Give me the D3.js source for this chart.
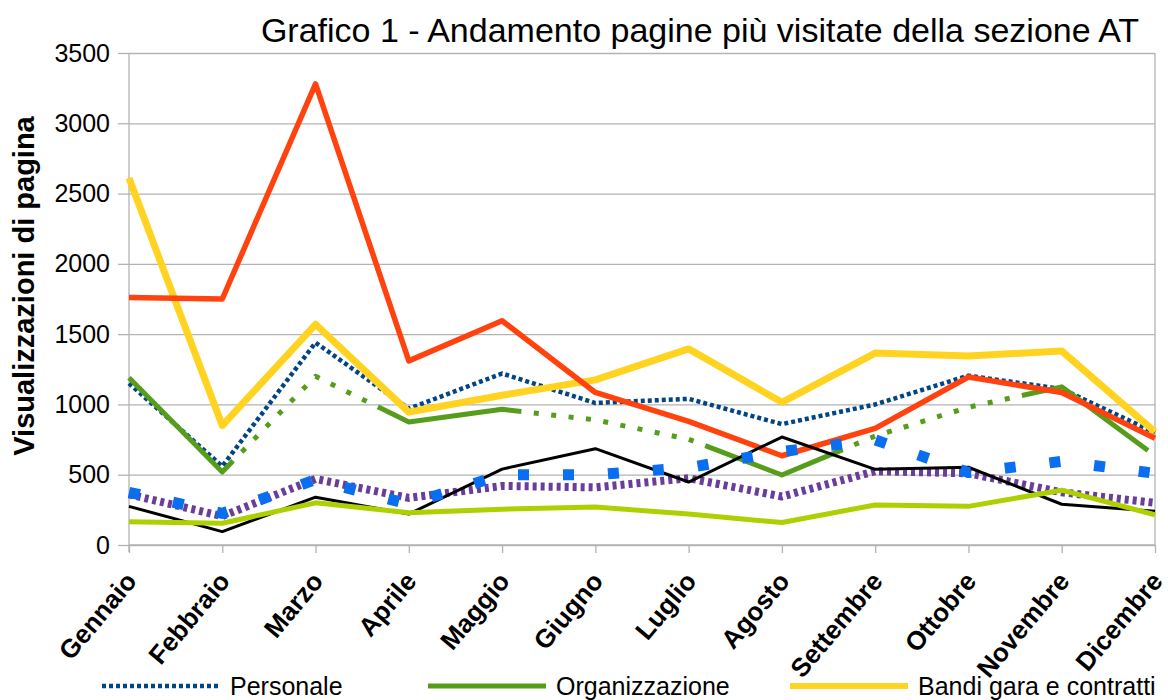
<!DOCTYPE html>
<html>
<head>
<meta charset="utf-8">
<script src="https://cdn.jsdelivr.net/npm/d3@7"></script>
<style>
  body { margin: 0; background: #fff; }
  text { font-family: "Liberation Sans", Arial, sans-serif; fill: #000; }
</style>
</head>
<body>
<div id="chart"></div>
<script>
(function () {

  // dati
  const months = ["Gennaio", "Febbraio", "Marzo", "Aprile", "Maggio", "Giugno",
    "Luglio", "Agosto", "Settembre", "Ottobre", "Novembre", "Dicembre"]

  const personale      = [1150, 560, 1440, 970, 1220, 1010, 1040, 860, 1000, 1205, 1110, 800]
  const organizzazione = [1190, 520, 1200, 875, 965, 890, 752, 498, 775, 980, 1125, 635]
  const bandi          = [2610, 850, 1570, 945, 1065, 1175, 1395, 1015, 1365, 1345, 1380, 805]
  const serieRossa     = [1760, 1750, 3280, 1310, 1595, 1085, 880, 635, 830, 1195, 1085, 760]
  const serieViola     = [360, 205, 470, 335, 420, 410, 475, 345, 525, 510, 375, 300]
  const serieNera      = [275, 95, 340, 220, 540, 685, 448, 768, 538, 553, 290, 240]
  const serieLime      = [165, 155, 300, 230, 255, 270, 220, 160, 285, 275, 390, 215]
  const serieQuadrati  = [375, 225, 465, 290, 500, 500, 550, 665, 748, 515, 595, 510]

  const yTicks = [0, 500, 1000, 1500, 2000, 2500, 3000, 3500]

  const legendNames = ["Personale", "Organizzazione", "Bandi gara e contratti"]

  const width = 1168
  const height = 700
  const left = 129, right = 1155, top = 53, bottom = 545

  const svg = d3.select("#chart").append("svg")
    .attr("width", width)
    .attr("height", height)

  const x = d3.scalePoint()
    .domain(months)
    .range([left, right])

  const y = d3.scaleLinear()
    .domain([0, 3500])
    .range([bottom, top])

  // griglia orizzontale
  svg.append("g")
    .attr("transform", "translate(" + left + ",0)")
    .call(d3.axisLeft(y).tickValues(yTicks).tickSize(-(right - left)).tickFormat(""))
    .call(g => g.select(".domain").remove())
    .call(g => g.selectAll("line").attr("stroke", "#b3b3b3").attr("stroke-width", 1.3))

  // bordo destro
  svg.append("line")
    .attr("x1", right).attr("x2", right)
    .attr("y1", top).attr("y2", bottom)
    .attr("stroke", "#b3b3b3").attr("stroke-width", 1.3)

  // asse y
  const yAxis = svg.append("g")
    .attr("transform", "translate(" + left + ",0)")
    .call(d3.axisLeft(y).tickValues(yTicks).tickSize(11).tickPadding(8).tickFormat(d3.format("d")))
  yAxis.select(".domain").attr("stroke", "#b3b3b3").attr("stroke-width", 1.3)
    .attr("d", "M0," + top + "V" + (bottom + 7))
  yAxis.selectAll("line").attr("stroke", "#b3b3b3").attr("stroke-width", 1.3)
  yAxis.selectAll("text").attr("font-size", 25).attr("fill", "#000")
    .style("font-family", '"Liberation Sans", Arial, sans-serif')

  // asse x
  const xAxis = svg.append("g")
    .attr("transform", "translate(0," + bottom + ")")
    .call(d3.axisBottom(x).tickSize(8).tickFormat(""))
  xAxis.select(".domain").attr("stroke", "#b3b3b3").attr("stroke-width", 1.3)
    .attr("d", "M" + left + ",0H" + right)
  xAxis.selectAll("line").attr("stroke", "#b3b3b3").attr("stroke-width", 1.3)

  svg.append("g").selectAll("text")
    .data(months)
    .join("text")
    .attr("transform", d => "translate(" + (x(d) + 2) + "," + (bottom + 31) + ") rotate(-50)")
    .attr("text-anchor", "end")
    .attr("dy", "0.35em")
    .attr("font-size", 26)
    .attr("font-weight", "bold")
    .text(d => d)

  // titolo asse y
  svg.append("text")
    .attr("transform", "translate(34,286) rotate(-90)")
    .attr("text-anchor", "middle")
    .attr("font-size", 29)
    .attr("font-weight", "bold")
    .text("Visualizzazioni di pagina")

  // titolo
  svg.append("text")
    .attr("x", 700)
    .attr("y", 42)
    .attr("text-anchor", "middle")
    .attr("font-size", 34)
    .text("Grafico 1 - Andamento pagine più visitate della sezione AT")

  // trattino lungo seguito da puntini
  const dashDot = [148].concat(d3.range(10).flatMap(() => [12.5, 5])).concat([12.5]).join(",")

  const series = [
    { values: personale, color: "#004586", w: 4.5, dash: "4,3" },
    { values: organizzazione, color: "#579d1c", w: 5, dash: dashDot },
    { values: bandi, color: "#ffd320", w: 7, dash: null },
    { values: serieRossa, color: "#ff420e", w: 5.5, dash: null },
    { values: serieViola, color: "#6a3d9a", w: 8, dash: "4,4" },
    { values: serieNera, color: "#000000", w: 3, dash: null },
    { values: serieLime, color: "#aecf00", w: 5, dash: null },
    { values: serieQuadrati, color: "#0a6ef0", w: 11, dash: "11,34" }
  ]

  const line = d3.line()
    .x((d, i) => x(months[i]))
    .y(d => y(d))

  svg.append("g").selectAll("path")
    .data(series)
    .join("path")
    .attr("d", d => line(d.values))
    .attr("fill", "none")
    .attr("stroke", d => d.color)
    .attr("stroke-width", d => d.w)
    .attr("stroke-dasharray", d => d.dash)
    .attr("stroke-linejoin", "round")

  // legenda (solo la prima riga è visibile)
  const legendX = [102, 428, 790]
  const legend = svg.append("g").selectAll("g")
    .data(legendNames)
    .join("g")
    .attr("transform", (d, i) => "translate(" + legendX[i] + ",686)")

  legend.append("line")
    .attr("x1", 0).attr("x2", 118)
    .attr("stroke", (d, i) => series[i].color)
    .attr("stroke-width", (d, i) => Math.min(series[i].w, 6))
    .attr("stroke-dasharray", (d, i) => i === 1 ? null : series[i].dash)

  legend.append("text")
    .attr("x", 128)
    .attr("dy", "0.35em")
    .attr("font-size", 25)
    .text(d => d)

})();
</script>
</body>
</html>
